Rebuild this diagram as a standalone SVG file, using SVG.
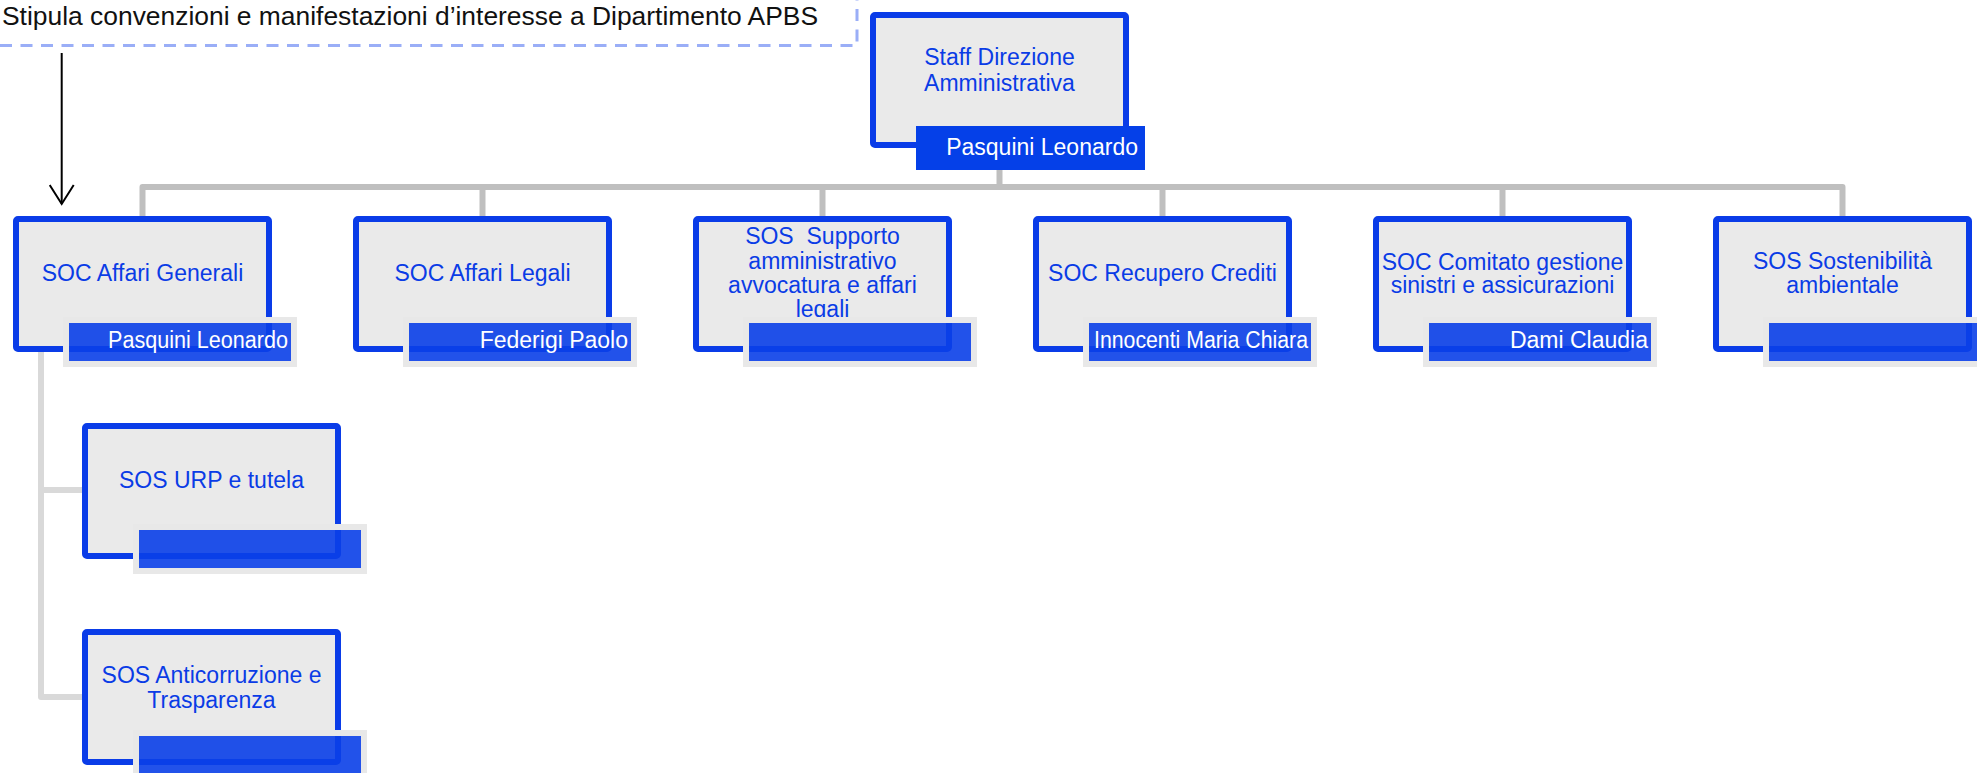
<svg xmlns="http://www.w3.org/2000/svg" width="1977" height="773" viewBox="0 0 1977 773">
  <style>
    .box { fill: #EAEAEA; stroke: #0A3CE8; stroke-width: 6; }
    .lbl { font-family: "Liberation Sans", Arial, sans-serif; font-size: 23px; fill: #0A3CE6; text-anchor: middle; }
    .bar { fill: #0A3FE8; fill-opacity: 0.9; stroke: #E8E8E8; stroke-width: 6; }
    .name { font-family: "Liberation Sans", Arial, sans-serif; font-size: 23px; fill: #FFFFFF; text-anchor: end; }
    .conn { fill: none; stroke: #BFBFBF; stroke-width: 6; stroke-linejoin: round; }
    .conn2 { fill: none; stroke: #D9D9D9; stroke-width: 6; stroke-linejoin: round; }
  </style>
  <defs>
    <marker id="open-arrow" viewBox="0 0 22 26" refX="20" refY="13" markerWidth="22" markerHeight="26" markerUnits="userSpaceOnUse" orient="auto">
      <path d="M1,1 L20,13 L1,25" fill="none" stroke="#000" stroke-width="2"/>
    </marker>
  </defs>
  <rect width="1977" height="773" fill="#FFFFFF"/>

  <!-- dashed frame with note -->
  <g id="note">
    <path d="M0,45.5 H857 V0" fill="none" stroke="#9AAEF7" stroke-width="3" stroke-dasharray="12 8.5"/>
    <text x="2" y="25" font-family="Liberation Sans, Arial, sans-serif" font-size="26" fill="#111111" textLength="816" lengthAdjust="spacingAndGlyphs">Stipula convenzioni e manifestazioni d’interesse a Dipartimento APBS</text>
  </g>

  <!-- connectors -->
  <g id="connectors">
    <path class="conn" d="M999.5,170 V187"/>
    <path class="conn" d="M142.5,216 V187 H1842.5 V216"/>
    <path class="conn" d="M482.5,187 V216"/>
    <path class="conn" d="M822.5,187 V216"/>
    <path class="conn" d="M1162.5,187 V216"/>
    <path class="conn" d="M1502.5,187 V216"/>
    <path class="conn2" d="M41,352 V697 H82"/>
    <path class="conn2" d="M41,490 H82"/>
    <line x1="61.7" y1="53" x2="61.7" y2="204" stroke="#000" stroke-width="2" marker-end="url(#open-arrow)"/>
  </g>

  <!-- top node -->
  <g id="staff-direzione">
    <rect class="box" x="873" y="15" width="253" height="130" rx="2"/>
    <text class="lbl" x="999.5" y="65">Staff Direzione</text>
    <text class="lbl" x="999.5" y="91">Amministrativa</text>
    <rect x="916" y="126" width="229" height="44" fill="#0540E8"/>
    <text class="name" x="1138" y="155">Pasquini Leonardo</text>
  </g>

  <g id="affari-generali">
    <rect class="box" x="16" y="219" width="253" height="130" rx="2"/>
    <text class="lbl" x="142.5" y="281">SOC Affari Generali</text>
    <rect class="bar" x="66" y="320" width="228" height="44"/>
    <text class="name" x="288" y="348" textLength="180" lengthAdjust="spacingAndGlyphs">Pasquini Leonardo</text>
  </g>

  <g id="affari-legali">
    <rect class="box" x="356" y="219" width="253" height="130" rx="2"/>
    <text class="lbl" x="482.5" y="281">SOC Affari Legali</text>
    <rect class="bar" x="406" y="320" width="228" height="44"/>
    <text class="name" x="628" y="348">Federigi Paolo</text>
  </g>

  <g id="supporto-avvocatura">
    <rect class="box" x="696" y="219" width="253" height="130" rx="2"/>
    <text class="lbl" x="822.5" y="244" xml:space="preserve">SOS  Supporto</text>
    <text class="lbl" x="822.5" y="268.5">amministrativo</text>
    <text class="lbl" x="822.5" y="293">avvocatura e affari</text>
    <text class="lbl" x="822.5" y="317">legali</text>
    <rect class="bar" x="746" y="320" width="228" height="44"/>
  </g>

  <g id="recupero-crediti">
    <rect class="box" x="1036" y="219" width="253" height="130" rx="2"/>
    <text class="lbl" x="1162.5" y="281">SOC Recupero Crediti</text>
    <rect class="bar" x="1086" y="320" width="228" height="44"/>
    <text class="name" x="1308" y="348" textLength="214" lengthAdjust="spacingAndGlyphs">Innocenti Maria Chiara</text>
  </g>

  <g id="comitato-sinistri">
    <rect class="box" x="1376" y="219" width="253" height="130" rx="2"/>
    <text class="lbl" x="1502.5" y="270">SOC Comitato gestione</text>
    <text class="lbl" x="1502.5" y="293">sinistri e assicurazioni</text>
    <rect class="bar" x="1426" y="320" width="228" height="44"/>
    <text class="name" x="1648" y="348">Dami Claudia</text>
  </g>

  <g id="sostenibilita">
    <rect class="box" x="1716" y="219" width="253" height="130" rx="2"/>
    <text class="lbl" x="1842.5" y="269">SOS Sostenibilità</text>
    <text class="lbl" x="1842.5" y="293">ambientale</text>
    <rect class="bar" x="1766" y="320" width="228" height="44"/>
  </g>

  <g id="urp-tutela">
    <rect class="box" x="85" y="426" width="253" height="130" rx="2"/>
    <text class="lbl" x="211.5" y="488">SOS URP e tutela</text>
    <rect class="bar" x="136" y="527" width="228" height="44"/>
  </g>

  <g id="anticorruzione">
    <rect class="box" x="85" y="632" width="253" height="130" rx="2"/>
    <text class="lbl" x="211.5" y="683">SOS Anticorruzione e</text>
    <text class="lbl" x="211.5" y="708">Trasparenza</text>
    <rect class="bar" x="136" y="733" width="228" height="44"/>
  </g>
</svg>
